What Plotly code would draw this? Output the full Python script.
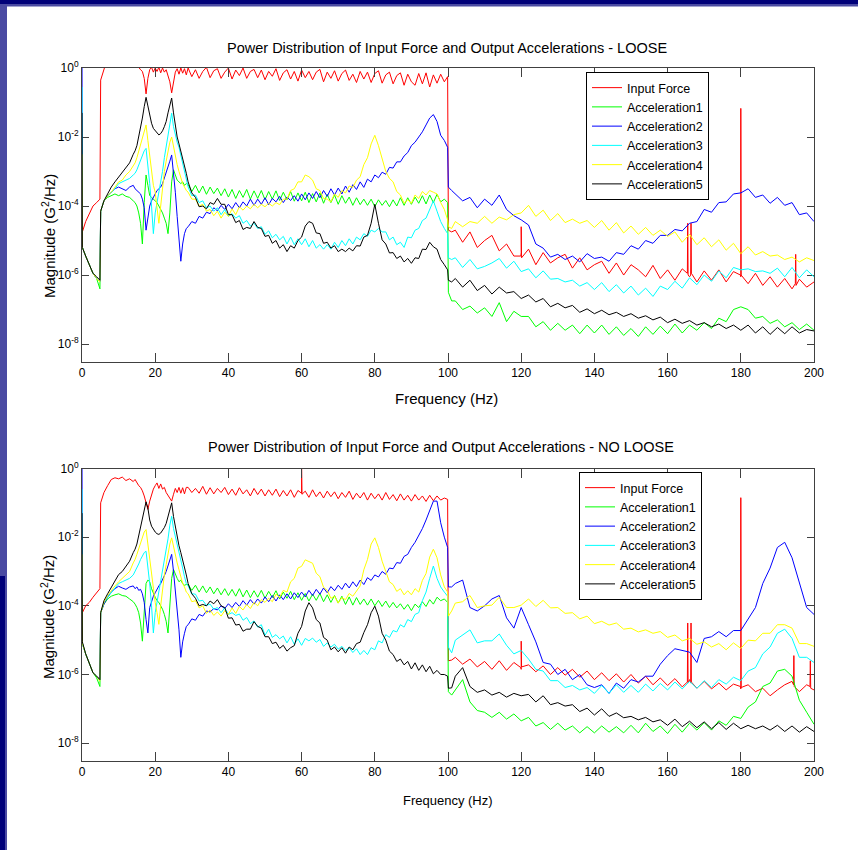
import plotly.graph_objects as go
import numpy as np

# ---------------- frequency grid (Hz) ----------------
FREQ = ([0, 0.1, 1, 2, 3, 4, 4.9]
        + [5.1, 6, 7, 8, 9, 10, 11, 12, 13]
        + [14 + 0.5 * i for i in range(30)]
        + list(range(29, 99))
        + [99, 99.9, 100.1, 101]
        + list(range(102, 201, 2)))

SERIES_NAMES = ["Input Force", "Acceleration1", "Acceleration2",
                "Acceleration3", "Acceleration4", "Acceleration5"]
COLORS = ["#ff0000", "#00ff00", "#0000ff", "#00ffff", "#ffff00", "#000000"]
Y_TICK_VALUES = [1e0, 1e-2, 1e-4, 1e-6, 1e-8]
Y_TICK_TEXT = ["10<sup>0</sup>", "10<sup>-2</sup>", "10<sup>-4</sup>",
               "10<sup>-6</sup>", "10<sup>-8</sup>"]
X_TICK_VALUES = [0, 20, 40, 60, 80, 100, 120, 140, 160, 180, 200]

# ---------------- LOOSE (values are log10 of magnitude) ----------------
loose_force = (
    [-4.8, -4.75, -4.45, -4.2, -4.0, -3.9, -3.8]
    + [-0.35, -0.02, 0.3, 0.4, 0.4, 0.4, 0.4, 0.35, 0.3]
    + [0.2, 0.1, 0.05, 0.02, -0.05, -0.1, -0.3, -0.75, -0.3, -0.05,
       0.02, -0.12, 0.0, -0.1, 0.02, -0.14, 0.0, -0.12, -0.05, -0.2,
       -0.4, -0.72, -0.35, -0.12, -0.02, -0.18, 0.0, -0.15, -0.02, -0.2]
    + [0.0, -0.25, -0.05, -0.3, -0.1, 0.02, -0.28, -0.08, -0.02, -0.3,
       -0.12, 0.0, -0.32, -0.06, -0.22, 0.0, -0.3, -0.1, -0.04, -0.28,
       -0.06, -0.34, -0.1, -0.24, -0.02, -0.36, -0.14, -0.05, -0.32, -0.1,
       -0.38, -0.06, -0.28, -0.1, -0.34, -0.12, -0.04, -0.4, -0.12, -0.3,
       -0.08, -0.38, -0.16, -0.06, -0.36, -0.18, -0.42, -0.1, -0.32, -0.12,
       -0.42, -0.16, -0.08, -0.44, -0.2, -0.12, -0.46, -0.22, -0.14, -0.5,
       -0.18, -0.4, -0.5, -0.16, -0.46, -0.14, -0.55, -0.2, -0.44, -0.18]
    + [-0.4, -0.25, -4.7, -4.75]
    + [-4.7, -5.05, -4.75, -5.2, -5.0, -4.85, -5.3, -5.1, -5.45, -5.35,
       -5.25, -5.7, -5.35, -5.65, -5.5, -5.4, -5.8, -5.5, -5.85, -5.7,
       -5.6, -5.95, -5.65, -6.0, -5.7, -5.85, -6.05, -5.72, -6.1, -5.85,
       -6.15, -5.82, -6.05, -6.2, -5.88, -6.15, -5.85, -6.2, -5.9, -6.05,
       -6.25, -5.95, -6.3, -6.05, -6.35, -6.1, -6.4, -6.12, -6.35, -6.2])
loose_force_spike_freq = [119.9, 120, 120.1, 165.4, 165.5, 165.6, 166.3, 166.4, 166.5,
                          179.9, 180, 180.1, 194.9, 195, 195.1]
loose_force_spike_val = [-5.45, -4.6, -5.5, -5.95, -4.5, -6.0, -6.0, -4.5, -5.95,
                         -6.0, -1.17, -6.0, -6.25, -5.4, -6.3]

loose_acc1 = (
    [-3.0, -5.2, -5.45, -5.7, -5.95, -6.1, -6.4]
    + [-4.15, -3.85, -3.75, -3.7, -3.65, -3.7, -3.65, -3.72, -3.75]
    + [-3.85, -3.9, -4.0, -4.2, -4.5, -5.1, -3.9, -3.1, -3.4, -3.7,
       -3.75, -3.8, -3.85, -3.9, -4.0, -4.1, -4.2, -4.35, -4.5, -4.8,
       -4.2, -3.3, -2.95, -3.1, -3.25, -3.3, -3.35, -3.3, -3.4, -3.35]
    + [-3.38, -3.58, -3.4, -3.62, -3.42, -3.66, -3.45, -3.64, -3.48, -3.7,
       -3.5, -3.74, -3.52, -3.78, -3.55, -3.75, -3.52, -3.8, -3.56, -3.78,
       -3.55, -3.82, -3.58, -3.8, -3.56, -3.84, -3.6, -3.82, -3.58, -3.86,
       -3.62, -3.85, -3.6, -3.9, -3.64, -3.88, -3.62, -3.92, -3.66, -3.9,
       -3.68, -3.95, -3.7, -3.92, -3.74, -3.98, -3.76, -3.96, -3.8, -3.98,
       -3.8, -4.02, -3.82, -3.98, -3.84, -4.02, -3.82, -4.0, -3.76, -3.98,
       -3.76, -3.95, -3.74, -3.92, -3.7, -3.94, -3.68, -3.9, -3.66, -3.88]
    + [-3.8, -3.9, -6.5, -6.75]
    + [-6.75, -7.0, -6.9, -7.1, -6.95, -7.2, -6.8, -7.35, -7.05, -7.2,
       -7.2, -7.5, -7.35, -7.6, -7.4, -7.6, -7.45, -7.7, -7.45, -7.68,
       -7.45, -7.72, -7.5, -7.75, -7.55, -7.78, -7.5, -7.72, -7.48, -7.7,
       -7.42, -7.68, -7.45, -7.6, -7.38, -7.55, -7.25, -7.35, -7.0, -6.92,
       -7.0, -7.25, -7.2, -7.4, -7.3, -7.5, -7.38, -7.58, -7.42, -7.6])

loose_acc2 = (
    [0.5, -5.2, -5.45, -5.7, -5.95, -6.1, -6.2]
    + [-4.15, -3.85, -3.7, -3.6, -3.5, -3.45, -3.5, -3.55, -3.45]
    + [-3.4, -3.5, -3.55, -3.6, -3.65, -3.8, -4.05, -4.7, -4.3, -4.0,
       -3.85, -3.75, -3.65, -3.55, -3.5, -3.45, -3.35, -3.2, -3.05, -2.9,
       -2.7, -2.52, -3.0, -3.6, -4.3, -4.9, -5.6, -5.1, -4.8, -4.65]
    + [-4.6, -4.45, -4.5, -4.3, -4.35, -4.18, -4.22, -4.05, -4.14, -3.98,
       -4.1, -3.95, -4.08, -3.9, -4.05, -3.88, -4.0, -3.8, -3.98, -3.8,
       -3.95, -3.76, -3.96, -3.78, -3.88, -3.72, -3.9, -3.74, -3.84, -3.7,
       -3.86, -3.65, -3.82, -3.62, -3.78, -3.58, -3.76, -3.55, -3.72, -3.5,
       -3.68, -3.48, -3.65, -3.42, -3.6, -3.38, -3.52, -3.3, -3.46, -3.22,
       -3.3, -3.1, -3.18, -3.02, -3.08, -2.88, -2.9, -2.72, -2.72, -2.55,
       -2.45, -2.25, -2.15, -2.0, -1.85, -1.65, -1.45, -1.35, -1.55, -1.95]
    + [-2.1, -2.3, -3.45, -3.55]
    + [-3.65, -3.85, -3.75, -4.05, -3.8, -3.98, -3.68, -4.1, -4.28, -4.4,
       -4.55, -5.1, -5.22, -5.48, -5.4, -5.55, -5.45, -5.62, -5.38, -5.52,
       -5.48, -5.6, -5.35, -5.4, -5.15, -5.25, -5.0, -5.08, -4.85, -4.85,
       -4.68, -4.72, -4.5, -4.45, -4.1, -4.18, -3.9, -3.88, -3.65, -3.62,
       -3.5, -3.75, -3.68, -3.92, -3.75, -3.98, -3.9, -4.25, -4.2, -4.45])

loose_acc3 = (
    [-0.55, -5.2, -5.45, -5.7, -5.95, -6.1, -6.2]
    + [-4.15, -3.85, -3.7, -3.6, -3.5, -3.35, -3.3, -3.25, -3.2]
    + [-3.1, -3.05, -2.95, -2.8, -2.67, -2.5, -2.4, -2.33, -2.8, -3.35,
       -4.0, -4.8, -4.2, -3.9, -3.65, -3.3, -3.0, -2.6, -2.3, -2.0,
       -1.6, -1.31, -1.7, -1.95, -2.15, -2.3, -2.55, -2.8, -3.05, -3.3]
    + [-3.45, -3.7, -3.68, -3.9, -3.85, -4.05, -4.0, -4.15, -4.05, -4.25,
       -4.1, -4.3, -4.22, -4.35, -4.28, -4.5, -4.42, -4.58, -4.5, -4.65,
       -4.6, -4.82, -4.72, -4.92, -4.82, -4.98, -4.88, -5.1, -4.9, -5.12,
       -4.95, -5.12, -4.95, -5.18, -5.0, -5.22, -5.12, -5.25, -5.12, -5.25,
       -5.05, -5.2, -5.0, -5.15, -4.95, -5.1, -4.9, -4.98, -4.8, -4.88,
       -4.7, -4.75, -4.65, -4.75, -4.75, -4.98, -4.9, -5.12, -5.05, -5.2,
       -4.9, -4.92, -4.7, -4.65, -4.42, -4.35, -4.08, -3.85, -4.15, -4.45]
    + [-4.65, -4.8, -5.5, -5.55]
    + [-5.5, -5.78, -5.55, -5.82, -5.75, -5.65, -5.52, -5.8, -5.6, -5.9,
       -5.82, -6.08, -5.88, -6.12, -6.1, -6.2, -6.15, -6.32, -6.22, -6.42,
       -6.22, -6.48, -6.28, -6.52, -6.32, -6.58, -6.38, -6.62, -6.32, -6.42,
       -6.18, -6.38, -6.08, -6.28, -6.0, -6.18, -5.88, -6.08, -5.78, -5.85,
       -5.82, -5.9, -5.88, -5.95, -5.8, -6.05, -5.78, -6.08, -5.85, -6.05])

loose_acc4 = (
    [-2.5, -5.2, -5.45, -5.7, -5.95, -6.1, -6.2]
    + [-4.15, -3.85, -3.7, -3.6, -3.45, -3.3, -3.25, -3.1, -3.0]
    + [-2.85, -2.75, -2.6, -2.4, -2.2, -2.0, -1.8, -1.65, -2.1, -2.5,
       -3.0, -3.4, -3.6, -4.0, -4.5, -4.0, -3.4, -3.0, -2.7, -2.4,
       -2.15, -2.0, -2.3, -2.6, -2.8, -3.0, -3.2, -3.35, -3.45, -3.55]
    + [-3.6, -3.8, -3.8, -4.0, -3.95, -4.15, -4.1, -4.28, -4.15, -4.35,
       -4.18, -4.3, -4.08, -4.25, -4.02, -4.12, -4.0, -4.08, -3.95, -4.05,
       -3.95, -4.02, -3.92, -4.0, -3.9, -3.96, -3.8, -3.8, -3.55, -3.5,
       -3.3, -3.3, -3.1, -3.15, -3.25, -3.5, -3.55, -3.78, -3.8, -3.88,
       -3.65, -3.75, -3.55, -3.62, -3.42, -3.46, -3.25, -3.15, -2.8, -2.6,
       -2.2, -1.95, -2.25, -2.65, -3.0, -3.2, -3.3, -3.58, -3.68, -3.92,
       -3.82, -3.92, -3.68, -3.78, -3.58, -3.68, -3.55, -3.6, -3.65, -3.9]
    + [-4.1, -4.4, -4.6, -4.65]
    + [-4.45, -4.6, -4.45, -4.5, -4.3, -4.5, -4.32, -4.4, -4.25, -4.2,
       -3.98, -4.3, -4.12, -4.42, -4.22, -4.48, -4.38, -4.5, -4.42, -4.62,
       -4.42, -4.7, -4.48, -4.78, -4.58, -4.82, -4.62, -4.85, -4.7, -4.88,
       -4.75, -5.05, -4.82, -5.12, -4.92, -5.18, -4.98, -5.28, -5.08, -5.38,
       -5.18, -5.42, -5.32, -5.45, -5.42, -5.55, -5.48, -5.62, -5.5, -5.58])

loose_acc5 = (
    [-1.3, -5.2, -5.45, -5.7, -5.95, -6.05, -6.15]
    + [-4.15, -3.85, -3.65, -3.45, -3.3, -3.16, -3.05, -2.9, -2.75]
    + [-2.5, -2.4, -2.25, -2.0, -1.75, -1.45, -1.12, -0.85, -1.1, -1.4,
       -1.6, -1.75, -1.82, -1.88, -1.94, -1.9, -1.82, -1.7, -1.55, -1.3,
       -1.1, -0.87, -1.3, -1.7, -2.0, -2.2, -2.4, -2.6, -2.85, -3.05]
    + [-3.3, -3.62, -3.75, -4.02, -4.0, -4.08, -3.9, -3.95, -3.78, -3.95,
       -3.95, -4.25, -4.25, -4.48, -4.42, -4.68, -4.62, -4.65, -4.45, -4.62,
       -4.65, -4.88, -4.85, -5.08, -5.0, -5.22, -5.12, -5.32, -5.15, -5.22,
       -5.0, -4.9, -4.58, -4.45, -4.5, -4.78, -4.8, -5.08, -5.05, -5.22,
       -5.15, -5.32, -5.25, -5.32, -5.22, -5.3, -5.15, -5.16, -4.9, -4.85,
       -4.5, -3.95, -4.5, -4.98, -5.1, -5.36, -5.35, -5.52, -5.45, -5.62,
       -5.52, -5.66, -5.5, -5.52, -5.25, -5.26, -5.05, -5.18, -5.25, -5.55]
    + [-5.7, -5.85, -6.15, -6.2]
    + [-6.1, -6.35, -6.15, -6.45, -6.3, -6.55, -6.35, -6.52, -6.48, -6.68,
       -6.58, -6.78, -6.68, -6.92, -6.82, -6.95, -6.88, -7.08, -6.98, -7.12,
       -7.02, -7.15, -7.08, -7.2, -7.12, -7.25, -7.18, -7.3, -7.22, -7.38,
       -7.28, -7.4, -7.32, -7.45, -7.38, -7.5, -7.42, -7.55, -7.45, -7.6,
       -7.45, -7.68, -7.5, -7.72, -7.52, -7.7, -7.5, -7.68, -7.58, -7.62])

# ---------------- NO LOOSE (values are log10 of magnitude) ----------------
noloose_force = (
    [-4.25, -4.2, -4.0, -3.9, -3.75, -3.6, -3.5]
    + [-1.0, -0.7, -0.5, -0.32, -0.27, -0.3, -0.25, -0.35, -0.3]
    + [-0.38, -0.32, -0.42, -0.5, -0.55, -0.65, -0.8, -1.0, -1.19, -0.95,
       -0.75, -0.6, -0.5, -0.42, -0.58, -0.45, -0.6, -0.55, -0.7, -0.78,
       -0.88, -0.95, -0.75, -0.58, -0.7, -0.55, -0.72, -0.56, -0.74, -0.55]
    + [-0.55, -0.7, -0.58, -0.72, -0.52, -0.75, -0.56, -0.74, -0.58, -0.7,
       -0.55, -0.76, -0.6, -0.78, -0.56, -0.74, -0.62, -0.8, -0.58, -0.76,
       -0.6, -0.8, -0.62, -0.78, -0.6, -0.82, -0.64, -0.8, -0.62, -0.84,
       -0.64, -0.72, -0.66, -0.84, -0.62, -0.82, -0.68, -0.86, -0.66, -0.82,
       -0.68, -0.88, -0.7, -0.84, -0.66, -0.9, -0.72, -0.86, -0.7, -0.92,
       -0.72, -0.88, -0.74, -0.92, -0.7, -0.9, -0.76, -0.94, -0.74, -0.92,
       -0.78, -0.95, -0.76, -0.92, -0.8, -0.96, -0.78, -0.94, -0.8, -0.92]
    + [-0.86, -0.9, -5.6, -5.58]
    + [-5.5, -5.7, -5.55, -5.78, -5.62, -5.85, -5.6, -5.88, -5.65, -5.85,
       -5.72, -5.92, -5.75, -6.0, -5.8, -6.02, -5.85, -6.08, -5.9, -6.15,
       -5.95, -6.18, -5.98, -6.22, -6.0, -6.25, -6.05, -6.3, -6.1, -6.32,
       -6.12, -6.36, -6.15, -6.4, -6.2, -6.42, -6.25, -6.45, -6.28, -6.42,
       -6.3, -6.5, -6.4, -6.62, -6.45, -6.3, -6.2, -6.5, -6.3, -6.45])
noloose_force_spike_freq = [59.9, 60, 60.1, 119.9, 120, 120.1, 165.4, 165.5, 165.6,
                            166.3, 166.4, 166.5, 179.9, 180, 180.1, 194.4, 194.5, 194.6,
                            198.9, 199, 199.1]
noloose_force_spike_val = [-0.72, 0.0, -0.75, -5.8, -5.03, -5.78, -6.22, -4.5, -6.25,
                           -6.25, -4.5, -6.22, -6.35, -0.85, -6.38, -6.3, -5.45, -6.35,
                           -6.35, -5.6, -6.4]

noloose_acc1 = (
    [-3.0, -5.1, -5.4, -5.7, -5.95, -6.1, -6.35]
    + [-4.2, -3.95, -3.8, -3.72, -3.68, -3.65, -3.7, -3.72, -3.8]
    + [-3.88, -3.95, -4.05, -4.2, -4.5, -5.03, -4.0, -3.35, -3.25, -3.3,
       -3.5, -3.65, -3.75, -3.85, -3.9, -4.0, -4.1, -4.25, -4.45, -4.79,
       -4.0, -3.2, -2.94, -3.1, -3.2, -3.3, -3.25, -3.35, -3.4, -3.38]
    + [-3.38, -3.55, -3.4, -3.6, -3.42, -3.62, -3.45, -3.65, -3.48, -3.68,
       -3.5, -3.7, -3.52, -3.72, -3.5, -3.74, -3.54, -3.76, -3.56, -3.75,
       -3.55, -3.78, -3.58, -3.76, -3.56, -3.8, -3.6, -3.78, -3.58, -3.82,
       -3.62, -3.84, -3.64, -3.86, -3.66, -3.84, -3.64, -3.88, -3.68, -3.9,
       -3.7, -3.92, -3.72, -3.96, -3.74, -3.98, -3.76, -3.96, -3.8, -3.98,
       -3.8, -4.0, -3.84, -4.02, -3.86, -4.05, -3.9, -4.06, -3.94, -4.1,
       -3.96, -4.14, -3.95, -4.05, -3.88, -4.02, -3.82, -3.95, -3.75, -3.85]
    + [-3.8, -3.9, -6.5, -6.6]
    + [-6.45, -6.15, -6.8, -7.05, -7.1, -7.25, -7.1, -7.3, -7.15, -7.35,
       -7.25, -7.5, -7.4, -7.6, -7.42, -7.62, -7.5, -7.7, -7.52, -7.7,
       -7.5, -7.68, -7.52, -7.7, -7.48, -7.7, -7.42, -7.66, -7.5, -7.72,
       -7.45, -7.68, -7.42, -7.62, -7.4, -7.62, -7.35, -7.48, -7.22, -7.28,
       -6.95, -6.8, -6.35, -6.25, -5.9, -5.85, -6.05, -6.75, -7.1, -7.45])

noloose_acc2 = (
    [0.5, -5.1, -5.4, -5.7, -5.95, -6.05, -6.15]
    + [-4.2, -3.95, -3.75, -3.6, -3.5, -3.43, -3.48, -3.52, -3.45]
    + [-3.42, -3.5, -3.45, -3.55, -3.52, -3.65, -3.9, -4.4, -4.79, -4.05,
       -3.85, -3.72, -3.62, -3.5, -3.42, -3.35, -3.25, -3.12, -3.0, -2.85,
       -2.7, -2.5, -3.0, -3.55, -4.2, -4.7, -5.5, -5.05, -4.8, -4.6]
    + [-4.55, -4.38, -4.42, -4.25, -4.3, -4.15, -4.18, -4.08, -4.12, -4.0,
       -4.08, -3.94, -4.05, -3.9, -4.02, -3.85, -3.98, -3.82, -3.95, -3.8,
       -3.92, -3.74, -3.88, -3.7, -3.86, -3.68, -3.82, -3.65, -3.8, -3.62,
       -3.76, -3.6, -3.74, -3.55, -3.7, -3.52, -3.66, -3.48, -3.62, -3.44,
       -3.56, -3.4, -3.52, -3.34, -3.48, -3.3, -3.44, -3.25, -3.38, -3.18,
       -3.26, -3.1, -3.16, -3.0, -3.08, -2.9, -2.92, -2.74, -2.76, -2.56,
       -2.5, -2.3, -2.15, -1.95, -1.75, -1.5, -1.25, -0.95, -0.95, -1.58]
    + [-2.0, -2.3, -3.45, -3.45]
    + [-3.35, -3.25, -4.05, -4.15, -4.0, -3.8, -3.7, -4.35, -4.65, -4.05,
       -4.55, -5.05, -5.65, -5.7, -6.0, -5.85, -6.15, -6.0, -6.3, -6.38,
       -6.3, -6.55, -6.25, -6.4, -6.15, -6.22, -6.05, -6.05, -5.7, -5.45,
       -5.25, -5.3, -5.35, -5.65, -4.95, -4.9, -4.75, -4.9, -4.72, -4.72,
       -4.4, -4.05, -3.35, -2.9, -2.3, -2.15, -2.6, -3.35, -4.05, -4.25])

noloose_acc3 = (
    [-0.6, -5.1, -5.4, -5.7, -5.95, -6.05, -6.2]
    + [-4.2, -3.9, -3.75, -3.62, -3.5, -3.35, -3.3, -3.25, -3.2]
    + [-3.1, -3.0, -2.9, -2.78, -2.65, -2.55, -2.45, -2.41, -2.85, -3.35,
       -4.0, -4.79, -4.2, -3.9, -3.62, -3.3, -3.0, -2.7, -2.4, -2.05,
       -1.65, -1.39, -1.75, -1.98, -2.15, -2.35, -2.65, -2.9, -3.15, -3.35]
    + [-3.42, -3.65, -3.66, -3.86, -3.84, -3.99, -3.95, -4.1, -4.05, -4.2,
       -4.06, -4.25, -4.2, -4.28, -4.24, -4.42, -4.34, -4.52, -4.44, -4.62,
       -4.55, -4.86, -4.68, -4.92, -4.84, -4.96, -4.88, -5.08, -4.9, -5.12,
       -4.96, -5.15, -4.95, -5.02, -4.94, -5.06, -4.98, -5.18, -5.08, -5.2,
       -5.12, -5.26, -5.18, -5.3, -5.22, -5.36, -5.25, -5.42, -5.3, -5.42,
       -5.22, -5.28, -5.02, -5.08, -4.84, -4.92, -4.72, -4.76, -4.55, -4.62,
       -4.4, -4.46, -4.25, -4.2, -3.85, -3.6, -3.2, -2.84, -3.2, -3.45]
    + [-3.6, -3.72, -5.2, -5.37]
    + [-5.0, -4.85, -4.7, -5.08, -5.02, -5.02, -4.82, -5.15, -5.4, -5.3,
       -5.55, -5.85, -5.9, -6.18, -6.18, -6.38, -6.32, -6.45, -6.38, -6.55,
       -6.32, -6.55, -6.3, -6.52, -6.32, -6.52, -6.28, -6.48, -6.26, -6.45,
       -6.22, -6.42, -6.2, -6.4, -6.18, -6.38, -6.15, -6.28, -6.08, -6.18,
       -5.9, -5.8, -5.4, -5.2, -4.8, -4.68, -4.95, -5.5, -5.5, -5.65])

noloose_acc4 = (
    [-2.5, -5.1, -5.4, -5.7, -5.95, -6.05, -6.2]
    + [-4.2, -3.9, -3.7, -3.55, -3.42, -3.3, -3.2, -3.1, -3.0]
    + [-2.75, -2.65, -2.5, -2.35, -2.17, -2.0, -1.85, -1.78, -2.2, -2.6,
       -3.1, -3.55, -3.9, -4.2, -4.54, -4.0, -3.5, -3.1, -2.8, -2.45,
       -2.2, -2.02, -2.3, -2.55, -2.75, -2.95, -3.15, -3.35, -3.45, -3.6]
    + [-3.65, -3.88, -3.85, -4.06, -4.0, -4.22, -4.12, -4.28, -4.18, -4.3,
       -4.14, -4.25, -4.06, -4.22, -4.02, -4.12, -3.96, -4.08, -3.9, -4.0,
       -3.82, -3.9, -3.78, -3.88, -3.66, -3.76, -3.55, -3.6, -3.3, -3.2,
       -2.9, -2.85, -2.66, -2.7, -2.76, -3.05, -3.15, -3.46, -3.55, -3.78,
       -3.72, -3.92, -3.76, -3.82, -3.64, -3.72, -3.55, -3.42, -2.95, -2.65,
       -2.2, -2.02, -2.3, -2.7, -3.0, -3.3, -3.38, -3.58, -3.5, -3.68,
       -3.56, -3.68, -3.5, -3.6, -3.26, -3.06, -2.58, -2.35, -2.6, -3.1]
    + [-3.45, -3.6, -4.3, -4.15]
    + [-3.92, -3.88, -3.7, -4.05, -4.0, -3.98, -3.75, -4.05, -4.05, -3.98,
       -3.8, -4.02, -3.84, -4.06, -4.05, -4.22, -4.2, -4.38, -4.3, -4.52,
       -4.45, -4.56, -4.5, -4.68, -4.65, -4.76, -4.7, -4.8, -4.75, -4.92,
       -4.85, -5.02, -4.95, -5.12, -5.05, -5.2, -5.1, -5.28, -5.08, -5.24,
       -5.0, -5.02, -4.8, -4.8, -4.55, -4.55, -4.65, -5.1, -5.1, -5.18])

noloose_acc5 = (
    [-1.3, -5.05, -5.4, -5.7, -5.95, -6.05, -6.15]
    + [-4.2, -3.85, -3.65, -3.45, -3.25, -3.09, -3.0, -2.85, -2.7]
    + [-2.45, -2.35, -2.2, -1.95, -1.7, -1.45, -1.19, -0.97, -1.15, -1.5,
       -1.68, -1.78, -1.85, -1.9, -1.92, -1.88, -1.8, -1.72, -1.6, -1.4,
       -1.2, -1.0, -1.4, -1.7, -2.0, -2.25, -2.45, -2.65, -2.9, -3.1]
    + [-3.35, -3.65, -3.78, -4.0, -3.96, -4.0, -3.86, -3.94, -3.82, -4.0,
       -4.05, -4.36, -4.35, -4.56, -4.54, -4.74, -4.68, -4.68, -4.46, -4.6,
       -4.65, -4.9, -4.9, -5.1, -5.06, -5.24, -5.15, -5.32, -5.22, -5.16,
       -4.8, -4.6, -4.15, -3.91, -4.06, -4.4, -4.5, -4.92, -5.0, -5.28,
       -5.2, -5.34, -5.22, -5.38, -5.2, -5.28, -5.1, -5.06, -4.78, -4.55,
       -4.2, -4.01, -4.3, -4.8, -5.0, -5.32, -5.42, -5.62, -5.55, -5.72,
       -5.62, -5.84, -5.66, -5.88, -5.72, -5.92, -5.76, -5.98, -5.88, -6.0]
    + [-6.0, -6.05, -6.4, -6.39]
    + [-6.05, -5.8, -6.35, -6.52, -6.45, -6.6, -6.52, -6.66, -6.55, -6.62,
       -6.58, -6.8, -6.62, -6.88, -6.82, -6.92, -6.88, -7.08, -6.98, -7.18,
       -7.0, -7.22, -7.12, -7.26, -7.22, -7.32, -7.25, -7.38, -7.32, -7.48,
       -7.3, -7.52, -7.36, -7.55, -7.38, -7.58, -7.4, -7.6, -7.42, -7.58,
       -7.48, -7.58, -7.5, -7.62, -7.48, -7.66, -7.5, -7.68, -7.52, -7.66])

# ---------------- layout geometry (pixels) ----------------
W, H = 858, 850
PL, PR, PT, PB = 82, 814, 68, 761
TOP_BOTTOM_PX, BOT_TOP_PX = 362, 468.5
FONT = "Liberation Sans, Arial, sans-serif"


def fx(x):
    return (x - PL) / (PR - PL)


def fy(y):
    return (PB - y) / (PB - PT)


def with_spikes(base, sf, sv):
    pts = list(zip(FREQ, base)) + list(zip(sf, sv))
    pts.sort(key=lambda p: p[0])
    return [p[0] for p in pts], [p[1] for p in pts]


fig = go.Figure()

panels = [
    ("x", "y", "legend",
     [loose_force, loose_acc1, loose_acc2, loose_acc3, loose_acc4, loose_acc5],
     loose_force_spike_freq, loose_force_spike_val),
    ("x2", "y2", "legend2",
     [noloose_force, noloose_acc1, noloose_acc2, noloose_acc3, noloose_acc4, noloose_acc5],
     noloose_force_spike_freq, noloose_force_spike_val),
]
for xa, ya, leg, series, sf, sv in panels:
    for i, (name, col, vals) in enumerate(zip(SERIES_NAMES, COLORS, series)):
        assert len(vals) == len(FREQ), (name, len(vals))
        if i == 0:
            xs, ys = with_spikes(vals, sf, sv)
        else:
            xs, ys = FREQ, vals
        fig.add_trace(go.Scatter(
            x=xs, y=np.power(10.0, ys), mode="lines", name=name,
            line=dict(color=col, width=1), xaxis=xa, yaxis=ya, legend=leg,
            hoverinfo="skip"))

axis_common = dict(showline=True, linecolor="#404040", linewidth=1, mirror="ticks",
                   ticks="inside", tickcolor="#404040", showgrid=False,
                   zeroline=False, tickfont=dict(family=FONT, size=12, color="black"))

fig.update_layout(
    width=W, height=H,
    margin=dict(l=PL, r=W - PR, t=PT, b=H - PB, pad=0),
    paper_bgcolor="white", plot_bgcolor="white",
    showlegend=True,
    xaxis=dict(domain=[0, 1], anchor="y", range=[0, 200], tickvals=X_TICK_VALUES,
               ticklen=9, **axis_common),
    yaxis=dict(domain=[fy(TOP_BOTTOM_PX), 1], anchor="x", type="log", range=[-8.52, 0],
               tickvals=Y_TICK_VALUES, ticktext=Y_TICK_TEXT, layer="below traces",
               ticklen=7, **axis_common),
    xaxis2=dict(domain=[0, 1], anchor="y2", range=[0, 200], tickvals=X_TICK_VALUES,
                ticklen=9, **axis_common),
    yaxis2=dict(domain=[0, fy(BOT_TOP_PX)], anchor="x2", type="log", range=[-8.52, 0],
                tickvals=Y_TICK_VALUES, ticktext=Y_TICK_TEXT, layer="below traces",
                ticklen=7, **axis_common),
    legend=dict(x=fx(586), y=fy(72), xanchor="left", yanchor="top", bgcolor="white",
                bordercolor="black", borderwidth=1, font=dict(family=FONT, size=12.5, color="black"),
                itemwidth=30, tracegroupgap=0),
    legend2=dict(x=fx(579), y=fy(472), xanchor="left", yanchor="top", bgcolor="white",
                 bordercolor="black", borderwidth=1, font=dict(family=FONT, size=12.5, color="black"),
                 itemwidth=30, tracegroupgap=0),
)

ann = [
    ("Power Distribution of Input Force and Output Accelerations - LOOSE", 447, 48, 14.5, 0),
    ("Power Distribution of Input Force and Output Accelerations - NO LOOSE", 441, 447, 14.5, 0),
    ("Frequency (Hz)", 446, 398, 15, 0),
    ("Frequency (Hz)", 448, 800, 13, 0),
    ("Magnitude (G<sup>2</sup>/Hz)", 48, 236, 15, -90),
    ("Magnitude (G<sup>2</sup>/Hz)", 47, 617, 15, -90),
]
for text, x, y, size, ang in ann:
    fig.add_annotation(text=text, x=fx(x), y=fy(y), xref="paper", yref="paper",
                       xanchor="center", yanchor="middle", showarrow=False, textangle=ang,
                       font=dict(family=FONT, size=size, color="black"))

# slide frame
frame = [
    (0, 0, W, 4, "#000078"),
    (0, 4, W, 6.5, "#4a4aa2"),
    (0, 4, 7, 576, "#4a4aa2"),
    (0, 576, 5, H, "#000078"),
    (5, 576, 7, H, "#4a4aa2"),
]
for x0, y0, x1, y1, c in frame:
    fig.add_shape(type="rect", xref="paper", yref="paper", x0=fx(x0), x1=fx(x1),
                  y0=fy(y0), y1=fy(y1), fillcolor=c, line=dict(width=0), layer="below")

fig.write_html("out.html", config={"displayModeBar": False},
               post_script="document.body.style.margin='0px';document.body.style.overflow='hidden';")
